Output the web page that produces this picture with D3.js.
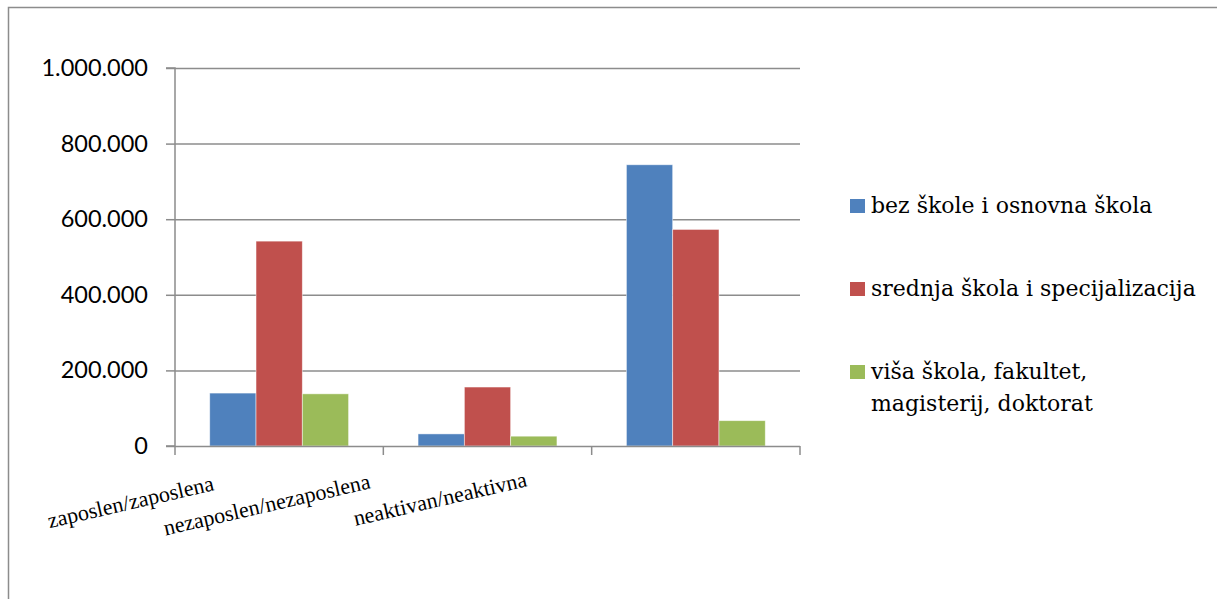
<!DOCTYPE html>
<html>
<head>
<meta charset="utf-8">
<script src="https://cdn.jsdelivr.net/npm/d3@7"></script>
<style>
  body { margin: 0; background: #fff; }
  svg { display: block; }
</style>
</head>
<body>
<div id="chart"></div>
<script>
// data
var categories = ['zaposlen/zaposlena', 'nezaposlen/nezaposlena', 'neaktivan/neaktivna'];
var seriesNames = ['bez škole i osnovna škola', 'srednja škola i specijalizacija', 'viša škola, fakultet, magisterij, doktorat'];
var bezSkole = [140000, 32000, 744000];
var srednja = [542000, 156000, 573000];
var visa = [138000, 26000, 67000];
var yTicks = [0, 200000, 400000, 600000, 800000, 1000000];
var colors = ['#4F81BD', '#C0504D', '#9BBB59'];

var series = [bezSkole, srednja, visa];

var W = 1217, H = 599;
var margin = {top: 68, left: 175, right: 417, bottom: 153};
var width = W - margin.left - margin.right,
    height = H - margin.top - margin.bottom;

var svg = d3.select('#chart').append('svg').attr('width', W).attr('height', H);

// outer frame (only left and top edges fall inside the picture)
svg.append('path')
    .attr('d', 'M8.5,' + H + 'V7.5H' + W)
    .attr('fill', 'none').attr('stroke', '#8c8c8c').attr('stroke-width', 1.5);

var g = svg.append('g').attr('transform', 'translate(' + margin.left + ',' + margin.top + ')');

var x0 = d3.scaleBand().domain(categories).range([0, width]).paddingInner(0).paddingOuter(0);
var x1 = d3.scaleBand().domain(d3.range(series.length)).range([x0.bandwidth() / 6, x0.bandwidth() * 5 / 6]);
var y = d3.scaleLinear().domain([0, 1000000]).range([height, 0]);

var fmt = function(d) { return d3.format(',')(d).replace(/,/g, '.'); };

// gridlines
g.append('g').selectAll('line').data(yTicks.slice(1)).enter().append('line')
    .attr('x1', 0).attr('x2', width)
    .attr('y1', function(d) { return y(d) + 0.5; }).attr('y2', function(d) { return y(d) + 0.5; })
    .attr('stroke', '#8c8c8c').attr('stroke-width', 1.5);

// bars
var grp = g.append('g').selectAll('g').data(categories).enter().append('g')
    .attr('transform', function(d) { return 'translate(' + x0(d) + ',0)'; });
grp.selectAll('rect').data(function(d, i) { return series.map(function(s, j) { return {s: j, v: s[i]}; }); })
    .enter().append('rect')
    .attr('x', function(d) { return x1(d.s); })
    .attr('width', x1.bandwidth())
    .attr('y', function(d) { return y(d.v); })
    .attr('height', function(d) { return height - y(d.v); })
    .attr('fill', function(d) { return colors[d.s]; })
    .attr('stroke', 'rgba(255,255,255,0.6)').attr('stroke-width', 0.8);

// y axis
var yAxis = d3.axisLeft(y).tickValues(yTicks).tickFormat(fmt).tickSize(9).tickPadding(18);
var ya = g.append('g').call(yAxis);
ya.select('.domain').attr('stroke', '#8c8c8c').attr('stroke-width', 1.5).attr('d', 'M-9,' + height + 'H0V0H-9');
ya.selectAll('.tick line').attr('stroke', '#8c8c8c').attr('stroke-width', 1.5);
ya.selectAll('.tick text').attr('fill', '#000').style('font-family', 'Lato, sans-serif').style('font-size', '23.5px');

// x axis baseline with ticks at category boundaries
var xa = g.append('g').attr('transform', 'translate(0,' + height + ')');
xa.append('line').attr('x1', 0).attr('x2', width).attr('y1', 0.5).attr('y2', 0.5)
    .attr('stroke', '#8c8c8c').attr('stroke-width', 1.5);
xa.selectAll('line.tk').data(categories.concat(['end'])).enter().append('line').attr('class', 'tk')
    .attr('x1', function(d, i) { return i < categories.length ? x0(d) : width; })
    .attr('x2', function(d, i) { return i < categories.length ? x0(d) : width; })
    .attr('y1', 0).attr('y2', 9)
    .attr('stroke', '#8c8c8c').attr('stroke-width', 1.5);

// rotated category labels, anchored by their end point
var xl = d3.scalePoint().domain(categories).range([215, 528]);
var yl = d3.scalePoint().domain(categories).range([490, 486]);
svg.append('g').selectAll('text').data(categories).enter().append('text')
    .attr('transform', function(d) { return 'translate(' + xl(d) + ',' + yl(d) + ') rotate(-13)'; })
    .attr('text-anchor', 'end')
    .style('font-family', '"Liberation Serif", serif').style('font-size', '22px')
    .text(function(d) { return d; });

// legend
var legend = svg.append('g').attr('transform', 'translate(850,0)');
var lg = legend.selectAll('g').data(seriesNames).enter().append('g')
    .attr('transform', function(d, i) { return 'translate(0,' + (199 + i * 83) + ')'; });
lg.append('rect').attr('width', 15).attr('height', 14).attr('fill', function(d, i) { return colors[i]; });
lg.append('text').attr('x', 21).attr('y', 14)
    .style('font-family', '"DejaVu Serif", serif').style('font-size', '22px')
    .each(function(d, i) {
        var t = d3.select(this);
        var lines = i === 2 ? ['viša škola, fakultet,', 'magisterij, doktorat'] : [d];
        lines.forEach(function(l, k) {
            t.append('tspan').attr('x', 21).attr('dy', k === 0 ? 0 : 32).text(l);
        });
    });
</script>
</body>
</html>
